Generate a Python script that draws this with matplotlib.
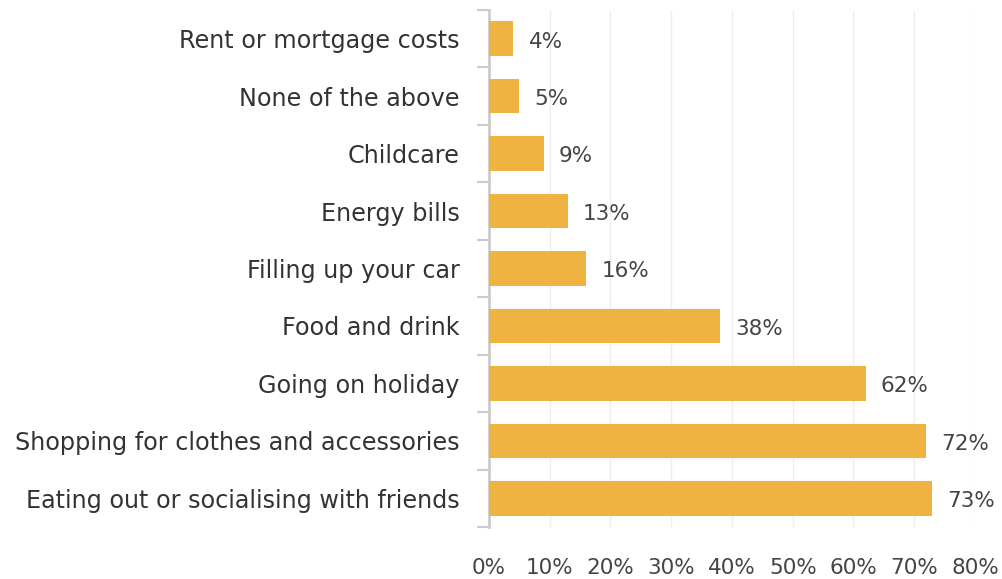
import matplotlib.pyplot as plt
import numpy as np

categories = [
    "Rent or mortgage costs",
    "None of the above",
    "Childcare",
    "Energy bills",
    "Filling up your car",
    "Food and drink",
    "Going on holiday",
    "Shopping for clothes and accessories",
    "Eating out or socialising with friends",
]
values = [4, 5, 9, 13, 16, 38, 62, 72, 73]
xticks = [0, 10, 20, 30, 40, 50, 60, 70, 80]

plt.rcParams['font.family'] = ['DejaVu Sans']

fig = plt.figure(figsize=(10.02, 5.79), dpi=100)
ax = fig.add_axes([0.488, 0.0898, 0.485, 0.893])

y = np.arange(len(categories))
ax.barh(y, values, height=0.6, color='#F0B341', zorder=3)
for yi, v in zip(y, values):
    ax.text(v + 2.5, yi + 0.05, f"{v}%", va='center', ha='left', fontsize=15.5, color='#444444')

ax.set_ylim(len(categories) - 0.5, -0.5)
ax.set_xlim(0, 80)
ax.set_xticks(xticks)
ax.set_xticklabels([f"{t}%" for t in xticks], fontsize=15.5, color='#444444')
ax.set_yticks(y)
ax.set_yticklabels(categories, fontsize=17.2, color='#333333')

# category boundary ticks on the left spine
ax.set_yticks(np.arange(len(categories) + 1) - 0.5, minor=True)
ax.tick_params(axis='y', which='major', length=0, pad=21)
ax.tick_params(axis='y', which='minor', length=9, width=1.5, color='#cccccc')
ax.tick_params(axis='x', length=0, pad=22)

ax.grid(axis='x', color='#eeeeee', linewidth=1, zorder=0)
for s in ['top', 'right', 'bottom']:
    ax.spines[s].set_visible(False)
ax.spines['left'].set_color('#cccccc')
ax.spines['left'].set_linewidth(2)

fig.savefig('out.png', dpi=100)
